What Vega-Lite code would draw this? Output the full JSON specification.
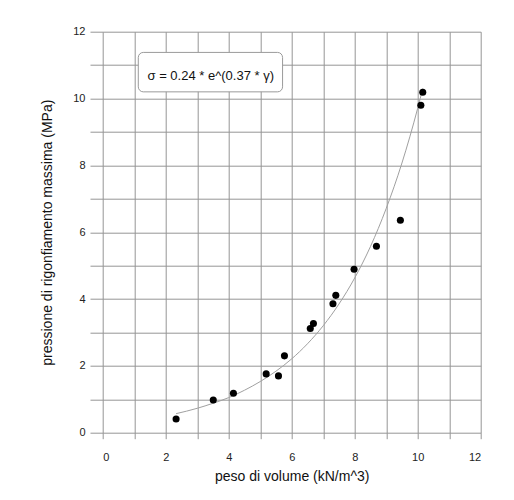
{
  "$schema": "https://vega.github.io/schema/vega-lite/v6.json",
  "width": 378,
  "height": 401,
  "autosize": "none",
  "padding": {"left": 102.7, "top": 31.7, "right": 33.3, "bottom": 67.3},
  "background": "white",
  "config": {
    "font": "Liberation Sans",
    "view": {"stroke": null},
    "axis": {
      "domain": false,
      "gridColor": "#959595",
      "gridWidth": 1,
      "tickColor": "#959595",
      "labelFont": "Liberation Sans",
      "labelFontSize": 11,
      "labelColor": "#222222",
      "titleFont": "Liberation Sans",
      "titleFontSize": 14,
      "titleFontWeight": "normal",
      "titleColor": "#111111"
    }
  },
  "datasets": {
    "points": [
      {"peso": 2.33, "pressione": 0.41},
      {"peso": 3.51, "pressione": 0.98},
      {"peso": 4.15, "pressione": 1.18},
      {"peso": 5.19, "pressione": 1.76},
      {"peso": 5.58, "pressione": 1.70},
      {"peso": 5.77, "pressione": 2.30},
      {"peso": 6.59, "pressione": 3.12},
      {"peso": 6.69, "pressione": 3.27},
      {"peso": 7.31, "pressione": 3.86},
      {"peso": 7.40, "pressione": 4.11},
      {"peso": 7.98, "pressione": 4.89},
      {"peso": 8.69, "pressione": 5.58},
      {"peso": 9.45, "pressione": 6.36},
      {"peso": 10.10, "pressione": 9.80},
      {"peso": 10.16, "pressione": 10.19}
    ],
    "curve": [
      {"peso": 2.33, "pressione": 0.57},
      {"peso": 3.0, "pressione": 0.73},
      {"peso": 3.5, "pressione": 0.88},
      {"peso": 4.0, "pressione": 1.05},
      {"peso": 4.5, "pressione": 1.27},
      {"peso": 5.0, "pressione": 1.53},
      {"peso": 5.5, "pressione": 1.84},
      {"peso": 6.0, "pressione": 2.21},
      {"peso": 6.5, "pressione": 2.66},
      {"peso": 7.0, "pressione": 3.20},
      {"peso": 7.5, "pressione": 3.85},
      {"peso": 8.0, "pressione": 4.63},
      {"peso": 8.5, "pressione": 5.57},
      {"peso": 9.0, "pressione": 6.71},
      {"peso": 9.5, "pressione": 8.07},
      {"peso": 10.0, "pressione": 9.71},
      {"peso": 10.16, "pressione": 10.30}
    ],
    "box": [
      {"x1": 1.13, "x2": 5.71, "y1": 10.20, "y2": 11.38, "cx": 3.43, "cy": 10.68, "label": "σ = 0.24 * e^(0.37 * γ)"}
    ]
  },
  "resolve": {"axis": {"x": "independent", "y": "independent"}},
  "layer": [
    {
      "data": {"name": "curve"},
      "mark": {"type": "line", "color": "#a0a0a0", "strokeWidth": 1, "interpolate": "monotone"},
      "encoding": {
        "x": {
          "field": "peso", "type": "quantitative",
          "scale": {"domain": [0, 12], "nice": false, "zero": false},
          "axis": {
            "orient": "bottom",
            "title": null,
            "grid": true,
            "labels": false,
            "values": [0, 1, 2, 3, 4, 5, 6, 7, 8, 9, 10, 11, 12],
            "tickSize": 6
          }
        },
        "y": {
          "field": "pressione", "type": "quantitative",
          "scale": {"domain": [0, 12], "nice": false, "zero": false},
          "axis": {
            "orient": "left",
            "title": null,
            "grid": true,
            "labels": false,
            "values": [0, 1, 2, 3, 4, 5, 6, 7, 8, 9, 10, 11, 12],
            "tickSize": 12.7
          }
        }
      }
    },
    {
      "data": {"name": "box"},
      "mark": {"type": "rect", "fill": "white", "stroke": "#9a9a9a", "strokeWidth": 1, "cornerRadius": 5},
      "encoding": {
        "x": {"field": "x1", "type": "quantitative", "axis": null},
        "x2": {"field": "x2"},
        "y": {"field": "y1", "type": "quantitative", "axis": null},
        "y2": {"field": "y2"}
      }
    },
    {
      "data": {"name": "box"},
      "mark": {"type": "text", "font": "Liberation Sans", "fontSize": 13, "color": "#111111", "align": "center", "baseline": "middle"},
      "encoding": {
        "x": {"field": "cx", "type": "quantitative", "axis": null},
        "y": {"field": "cy", "type": "quantitative", "axis": null},
        "text": {"field": "label"}
      }
    },
    {
      "data": {"name": "points"},
      "mark": {"type": "point", "filled": true, "color": "black", "opacity": 1, "size": 50, "shape": "circle"},
      "encoding": {
        "x": {
          "field": "peso", "type": "quantitative",
          "axis": {
            "orient": "bottom",
            "title": "peso di volume (kN/m^3)",
            "grid": false,
            "values": [0, 2, 4, 6, 8, 10, 12],
            "ticks": true,
            "tickOpacity": 0,
            "tickSize": 6,
            "labelPadding": 13,
            "labelOverlap": false,
            "titleBaseline": "middle",
            "titleY": 44
          }
        },
        "y": {
          "field": "pressione", "type": "quantitative",
          "axis": {
            "orient": "left",
            "title": "pressione di rigonfiamento massima (MPa)",
            "grid": false,
            "values": [0, 2, 4, 6, 8, 10, 12],
            "ticks": true,
            "tickOpacity": 0,
            "tickSize": 12.7,
            "labelPadding": 5,
            "labelOverlap": false,
            "titleBaseline": "middle",
            "titleX": -54.7,
            "titleY": 200.5
          }
        }
      }
    }
  ]
}
